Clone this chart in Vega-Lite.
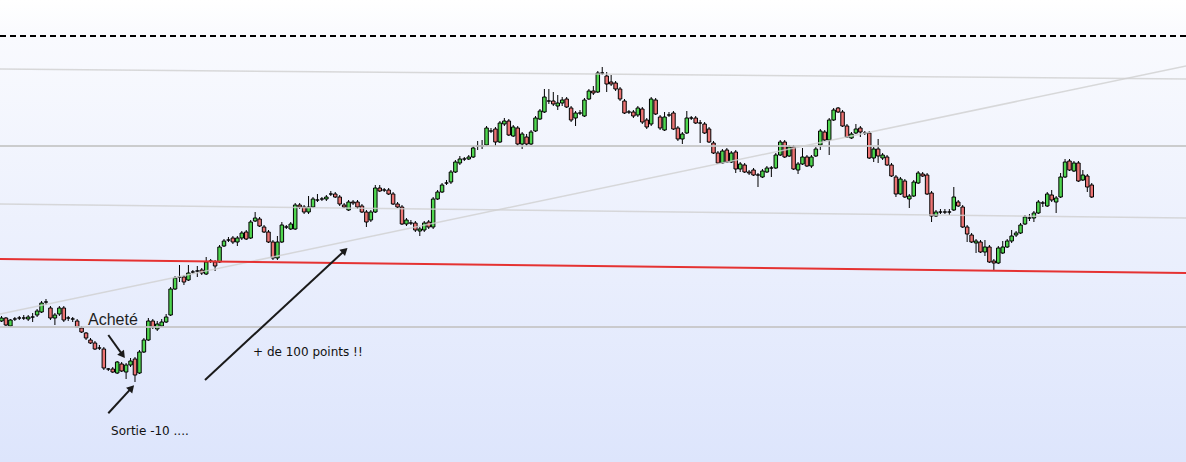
{
"$schema":"https://vega.github.io/schema/vega-lite/v6.json",
"width":1186,"height":462,"padding":0,"autosize":{"type":"none"},
"background":"#ffffff",
"config":{"scale":{"continuousPadding":0},"view":{"stroke":null,"fill":{"gradient":"linear","x1":0,"y1":0,"x2":0,"y2":1,"stops":[{"offset":0,"color":"#ffffff"},{"offset":0.08,"color":"#f9fafe"},{"offset":1,"color":"#dde5fc"}]}}},
"datasets":{
"candles":[
{"i":0,"o":679,"h":684,"l":678,"c":682},{"i":1,"o":682,"h":683,"l":674,"c":675},{"i":2,"o":674,"h":681,"l":673,"c":680},{"i":3,"o":681,"h":683,"l":679,"c":681},{"i":4,"o":682,"h":684,"l":680,"c":682},{"i":5,"o":682,"h":685,"l":680,"c":682},{"i":6,"o":681,"h":685,"l":679,"c":683},{"i":7,"o":683,"h":687,"l":678,"c":683},{"i":8,"o":685,"h":691,"l":683,"c":689},{"i":9,"o":688,"h":699,"l":687,"c":697},
{"i":10,"o":698,"h":701,"l":695,"c":698},{"i":11,"o":692,"h":694,"l":680,"c":682},{"i":12,"o":682,"h":687,"l":675,"c":685},{"i":13,"o":686,"h":694,"l":684,"c":692},{"i":14,"o":692,"h":694,"l":678,"c":680},{"i":15,"o":682,"h":684,"l":679,"c":682},{"i":16,"o":681,"h":683,"l":678,"c":681},{"i":17,"o":679,"h":681,"l":672,"c":673},{"i":18,"o":672,"h":674,"l":667,"c":668},{"i":19,"o":667,"h":668,"l":660,"c":662},
{"i":20,"o":660,"h":662,"l":656,"c":657},{"i":21,"o":657,"h":659,"l":650,"c":651},{"i":22,"o":652,"h":655,"l":650,"c":652},{"i":23,"o":651,"h":653,"l":630,"c":632},{"i":24,"o":631,"h":632,"l":629,"c":631},{"i":25,"o":631,"h":633,"l":627,"c":628},{"i":26,"o":627,"h":639,"l":626,"c":638},{"i":27,"o":636,"h":638,"l":628,"c":629},{"i":28,"o":628,"h":637,"l":621,"c":635},{"i":29,"o":635,"h":642,"l":633,"c":639},
{"i":30,"o":641,"h":643,"l":618,"c":625},{"i":31,"o":627,"h":650,"l":626,"c":648},{"i":32,"o":648,"h":662,"l":647,"c":660},{"i":33,"o":660,"h":682,"l":659,"c":679},{"i":34,"o":679,"h":681,"l":671,"c":673},{"i":35,"o":671,"h":679,"l":669,"c":676},{"i":36,"o":674,"h":681,"l":673,"c":678},{"i":37,"o":678,"h":686,"l":677,"c":683},{"i":38,"o":685,"h":713,"l":684,"c":711},{"i":39,"o":711,"h":724,"l":710,"c":722},
{"i":40,"o":723,"h":735,"l":718,"c":723},{"i":41,"o":723,"h":725,"l":715,"c":718},{"i":42,"o":720,"h":735,"l":719,"c":727},{"i":43,"o":728,"h":730,"l":726,"c":728},{"i":44,"o":729,"h":734,"l":723,"c":729},{"i":45,"o":730,"h":732,"l":725,"c":727},{"i":46,"o":726,"h":743,"l":725,"c":738},{"i":47,"o":739,"h":741,"l":737,"c":739},{"i":48,"o":738,"h":740,"l":729,"c":734},{"i":49,"o":738,"h":755,"l":737,"c":753},
{"i":50,"o":754,"h":761,"l":753,"c":759},{"i":51,"o":760,"h":763,"l":758,"c":760},{"i":52,"o":762,"h":764,"l":756,"c":758},{"i":53,"o":758,"h":764,"l":754,"c":762},{"i":54,"o":762,"h":769,"l":760,"c":767},{"i":55,"o":768,"h":770,"l":760,"c":761},{"i":56,"o":762,"h":780,"l":761,"c":778},{"i":57,"o":779,"h":788,"l":778,"c":782},{"i":58,"o":781,"h":783,"l":773,"c":774},{"i":59,"o":773,"h":775,"l":767,"c":768},
{"i":60,"o":768,"h":770,"l":757,"c":758},{"i":61,"o":758,"h":760,"l":740,"c":742},{"i":62,"o":742,"h":764,"l":740,"c":758},{"i":63,"o":758,"h":778,"l":757,"c":775},{"i":64,"o":773,"h":775,"l":771,"c":773},{"i":65,"o":771,"h":778,"l":770,"c":776},{"i":66,"o":771,"h":797,"l":770,"c":795},{"i":67,"o":795,"h":797,"l":791,"c":793},{"i":68,"o":793,"h":795,"l":786,"c":788},{"i":69,"o":788,"h":804,"l":786,"c":793},
{"i":70,"o":793,"h":803,"l":792,"c":801},{"i":71,"o":800,"h":806,"l":798,"c":800},{"i":72,"o":801,"h":803,"l":799,"c":801},{"i":73,"o":801,"h":805,"l":799,"c":803},{"i":74,"o":806,"h":809,"l":804,"c":806},{"i":75,"o":806,"h":808,"l":802,"c":803},{"i":76,"o":803,"h":805,"l":794,"c":796},{"i":77,"o":795,"h":797,"l":792,"c":793},{"i":78,"o":790,"h":800,"l":789,"c":798},{"i":79,"o":798,"h":800,"l":795,"c":797},
{"i":80,"o":798,"h":800,"l":791,"c":793},{"i":81,"o":794,"h":796,"l":787,"c":788},{"i":82,"o":788,"h":790,"l":773,"c":778},{"i":83,"o":780,"h":790,"l":778,"c":788},{"i":84,"o":788,"h":815,"l":787,"c":812},{"i":85,"o":812,"h":815,"l":808,"c":809},{"i":86,"o":810,"h":812,"l":808,"c":810},{"i":87,"o":810,"h":812,"l":805,"c":806},{"i":88,"o":806,"h":808,"l":795,"c":796},{"i":89,"o":796,"h":798,"l":792,"c":793},
{"i":90,"o":793,"h":795,"l":775,"c":776},{"i":91,"o":776,"h":782,"l":774,"c":780},{"i":92,"o":777,"h":780,"l":775,"c":777},{"i":93,"o":777,"h":779,"l":768,"c":770},{"i":94,"o":769,"h":773,"l":764,"c":771},{"i":95,"o":770,"h":779,"l":768,"c":777},{"i":96,"o":778,"h":780,"l":771,"c":773},{"i":97,"o":773,"h":803,"l":771,"c":801},{"i":98,"o":801,"h":810,"l":800,"c":808},{"i":99,"o":808,"h":817,"l":807,"c":815},
{"i":100,"o":817,"h":820,"l":815,"c":817},{"i":101,"o":818,"h":830,"l":816,"c":828},{"i":102,"o":828,"h":840,"l":827,"c":838},{"i":103,"o":837,"h":844,"l":835,"c":841},{"i":104,"o":841,"h":843,"l":839,"c":841},{"i":105,"o":841,"h":845,"l":840,"c":843},{"i":106,"o":843,"h":854,"l":842,"c":852},{"i":107,"o":854,"h":859,"l":850,"c":854},{"i":108,"o":854,"h":860,"l":851,"c":854},{"i":109,"o":855,"h":874,"l":854,"c":872},
{"i":110,"o":869,"h":872,"l":867,"c":869},{"i":111,"o":871,"h":873,"l":854,"c":858},{"i":112,"o":858,"h":879,"l":857,"c":877},{"i":113,"o":876,"h":882,"l":874,"c":879},{"i":114,"o":879,"h":881,"l":864,"c":865},{"i":115,"o":864,"h":875,"l":863,"c":873},{"i":116,"o":872,"h":874,"l":854,"c":856},{"i":117,"o":856,"h":868,"l":851,"c":866},{"i":118,"o":863,"h":866,"l":854,"c":856},{"i":119,"o":856,"h":870,"l":855,"c":868},
{"i":120,"o":869,"h":884,"l":868,"c":882},{"i":121,"o":881,"h":891,"l":880,"c":889},{"i":122,"o":888,"h":911,"l":887,"c":903},{"i":123,"o":899,"h":911,"l":896,"c":899},{"i":124,"o":899,"h":908,"l":894,"c":896},{"i":125,"o":894,"h":905,"l":890,"c":897},{"i":126,"o":897,"h":903,"l":894,"c":900},{"i":127,"o":901,"h":903,"l":892,"c":893},{"i":128,"o":892,"h":894,"l":878,"c":880},{"i":129,"o":882,"h":889,"l":874,"c":887},
{"i":130,"o":887,"h":890,"l":885,"c":887},{"i":131,"o":884,"h":902,"l":883,"c":900},{"i":132,"o":901,"h":911,"l":900,"c":909},{"i":133,"o":909,"h":914,"l":905,"c":907},{"i":134,"o":908,"h":929,"l":907,"c":927},{"i":135,"o":927,"h":933,"l":925,"c":927},{"i":136,"o":924,"h":928,"l":908,"c":916},{"i":137,"o":918,"h":925,"l":914,"c":916},{"i":138,"o":917,"h":919,"l":909,"c":911},{"i":139,"o":911,"h":913,"l":899,"c":901},
{"i":140,"o":899,"h":901,"l":886,"c":887},{"i":141,"o":888,"h":890,"l":886,"c":888},{"i":142,"o":888,"h":890,"l":882,"c":884},{"i":143,"o":885,"h":894,"l":883,"c":892},{"i":144,"o":891,"h":893,"l":876,"c":878},{"i":145,"o":880,"h":882,"l":871,"c":873},{"i":146,"o":876,"h":903,"l":874,"c":901},{"i":147,"o":900,"h":902,"l":885,"c":886},{"i":148,"o":883,"h":885,"l":870,"c":872},{"i":149,"o":870,"h":888,"l":869,"c":883},
{"i":150,"o":885,"h":888,"l":883,"c":885},{"i":151,"o":887,"h":889,"l":870,"c":871},{"i":152,"o":872,"h":874,"l":859,"c":861},{"i":153,"o":861,"h":868,"l":856,"c":866},{"i":154,"o":867,"h":889,"l":866,"c":882},{"i":155,"o":882,"h":884,"l":880,"c":882},{"i":156,"o":882,"h":884,"l":876,"c":877},{"i":157,"o":877,"h":880,"l":857,"c":877},{"i":158,"o":876,"h":878,"l":866,"c":867},{"i":159,"o":871,"h":873,"l":857,"c":858},
{"i":160,"o":857,"h":859,"l":846,"c":847},{"i":161,"o":847,"h":849,"l":836,"c":837},{"i":162,"o":837,"h":851,"l":836,"c":849},{"i":163,"o":850,"h":852,"l":837,"c":838},{"i":164,"o":838,"h":849,"l":837,"c":847},{"i":165,"o":848,"h":850,"l":827,"c":831},{"i":166,"o":831,"h":838,"l":828,"c":836},{"i":167,"o":835,"h":837,"l":827,"c":828},{"i":168,"o":828,"h":830,"l":825,"c":827},{"i":169,"o":830,"h":832,"l":824,"c":825},
{"i":170,"o":825,"h":827,"l":813,"c":825},{"i":171,"o":823,"h":831,"l":822,"c":829},{"i":172,"o":828,"h":834,"l":827,"c":832},{"i":173,"o":832,"h":834,"l":823,"c":832},{"i":174,"o":832,"h":847,"l":831,"c":845},{"i":175,"o":845,"h":860,"l":844,"c":858},{"i":176,"o":858,"h":860,"l":842,"c":843},{"i":177,"o":844,"h":855,"l":843,"c":853},{"i":178,"o":853,"h":855,"l":830,"c":831},{"i":179,"o":830,"h":838,"l":826,"c":836},
{"i":180,"o":836,"h":852,"l":835,"c":843},{"i":181,"o":843,"h":845,"l":833,"c":834},{"i":182,"o":834,"h":845,"l":832,"c":843},{"i":183,"o":844,"h":853,"l":843,"c":851},{"i":184,"o":855,"h":871,"l":850,"c":869},{"i":185,"o":868,"h":870,"l":859,"c":860},{"i":186,"o":860,"h":882,"l":845,"c":880},{"i":187,"o":880,"h":892,"l":879,"c":890},{"i":188,"o":892,"h":893,"l":887,"c":888},{"i":189,"o":888,"h":890,"l":873,"c":874},
{"i":190,"o":874,"h":876,"l":862,"c":863},{"i":191,"o":862,"h":868,"l":861,"c":866},{"i":192,"o":867,"h":876,"l":866,"c":871},{"i":193,"o":872,"h":874,"l":863,"c":868},{"i":194,"o":867,"h":869,"l":865,"c":867},{"i":195,"o":867,"h":869,"l":841,"c":842},{"i":196,"o":842,"h":853,"l":838,"c":851},{"i":197,"o":851,"h":861,"l":837,"c":844},{"i":198,"o":842,"h":847,"l":840,"c":845},{"i":199,"o":843,"h":845,"l":834,"c":835},
{"i":200,"o":835,"h":837,"l":823,"c":824},{"i":201,"o":823,"h":825,"l":803,"c":806},{"i":202,"o":806,"h":823,"l":805,"c":821},{"i":203,"o":819,"h":821,"l":802,"c":803},{"i":204,"o":801,"h":806,"l":792,"c":804},{"i":205,"o":804,"h":820,"l":803,"c":818},{"i":206,"o":817,"h":829,"l":816,"c":827},{"i":207,"o":826,"h":828,"l":823,"c":824},{"i":208,"o":825,"h":827,"l":805,"c":806},{"i":209,"o":807,"h":809,"l":778,"c":784},
{"i":210,"o":784,"h":790,"l":783,"c":788},{"i":211,"o":788,"h":791,"l":786,"c":788},{"i":212,"o":788,"h":791,"l":786,"c":788},{"i":213,"o":788,"h":791,"l":785,"c":788},{"i":214,"o":790,"h":813,"l":789,"c":803},{"i":215,"o":798,"h":800,"l":793,"c":794},{"i":216,"o":793,"h":795,"l":772,"c":773},{"i":217,"o":773,"h":775,"l":758,"c":766},{"i":218,"o":765,"h":767,"l":757,"c":758},{"i":219,"o":757,"h":761,"l":747,"c":759},
{"i":220,"o":758,"h":760,"l":747,"c":748},{"i":221,"o":748,"h":760,"l":744,"c":753},{"i":222,"o":753,"h":755,"l":737,"c":738},{"i":223,"o":739,"h":741,"l":730,"c":737},{"i":224,"o":737,"h":754,"l":736,"c":752},{"i":225,"o":747,"h":759,"l":746,"c":753},{"i":226,"o":753,"h":761,"l":752,"c":759},{"i":227,"o":759,"h":770,"l":757,"c":764},{"i":228,"o":765,"h":769,"l":763,"c":767},{"i":229,"o":767,"h":777,"l":766,"c":775},
{"i":230,"o":776,"h":785,"l":775,"c":783},{"i":231,"o":782,"h":786,"l":779,"c":782},{"i":232,"o":782,"h":789,"l":778,"c":787},{"i":233,"o":787,"h":800,"l":786,"c":798},{"i":234,"o":797,"h":799,"l":793,"c":797},{"i":235,"o":794,"h":808,"l":793,"c":806},{"i":236,"o":805,"h":810,"l":798,"c":800},{"i":237,"o":798,"h":804,"l":787,"c":802},{"i":238,"o":803,"h":827,"l":802,"c":823},{"i":239,"o":823,"h":841,"l":822,"c":838},
{"i":240,"o":839,"h":841,"l":829,"c":830},{"i":241,"o":829,"h":839,"l":828,"c":837},{"i":242,"o":837,"h":839,"l":818,"c":819},{"i":243,"o":820,"h":830,"l":819,"c":825},{"i":244,"o":824,"h":826,"l":808,"c":813},{"i":245,"o":815,"h":817,"l":802,"c":803}
]},
"layer":[
{"data":{"name":"candles"},"mark":{"type":"rule","color":"#000000","strokeWidth":1},
 "encoding":{"x":{"field":"i","type":"quantitative","scale":{"domain":[-0.337,266.18],"nice":false,"zero":false,"padding":0},"axis":null},
 "y":{"field":"h","type":"quantitative","scale":{"domain":[538,1000],"nice":false,"zero":false,"padding":0},"axis":null},"y2":{"field":"l"}}},
{"data":{"name":"candles"},"mark":{"type":"bar","width":3.5,"stroke":"#000000","strokeWidth":1,"opacity":1},
 "encoding":{"x":{"field":"i","type":"quantitative","scale":{"domain":[-0.337,266.18],"nice":false,"zero":false,"padding":0},"axis":null},
 "y":{"field":"o","type":"quantitative","scale":{"domain":[538,1000],"nice":false,"zero":false,"padding":0},"axis":null},"y2":{"field":"c"},
 "fill":{"condition":{"test":"datum.c > datum.o","value":"#4fd64f"},"value":"#ec7474"}}},
{"data":{"values":[{"x":-0.337,"y":964,"x2":266.18,"y2":964}]},"mark":{"type":"rule","color":"#000000","strokeWidth":2,"strokeDash":[6,4]},
 "encoding":{"x":{"field":"x","type":"quantitative","scale":{"domain":[-0.337,266.18],"nice":false,"zero":false,"padding":0},"axis":null},"x2":{"field":"x2"},
 "y":{"field":"y","type":"quantitative","scale":{"domain":[538,1000],"nice":false,"zero":false,"padding":0},"axis":null},"y2":{"field":"y2"}}},
{"data":{"values":[{"x":-0.337,"y":854,"x2":266.18,"y2":854},{"x":-0.337,"y":673,"x2":266.18,"y2":673}]},"mark":{"type":"rule","color":"#c4c4c4","strokeWidth":2,"opacity":0.85},
 "encoding":{"x":{"field":"x","type":"quantitative","scale":{"domain":[-0.337,266.18],"nice":false,"zero":false,"padding":0},"axis":null},"x2":{"field":"x2"},
 "y":{"field":"y","type":"quantitative","scale":{"domain":[538,1000],"nice":false,"zero":false,"padding":0},"axis":null},"y2":{"field":"y2"}}},
{"data":{"values":[{"x":-0.337,"y":931,"x2":266.18,"y2":921},{"x":-0.337,"y":796,"x2":266.18,"y2":782},{"x":-0.337,"y":686,"x2":266.18,"y2":934}]},"mark":{"type":"rule","color":"#cfcfcf","strokeWidth":1.5,"opacity":0.8},
 "encoding":{"x":{"field":"x","type":"quantitative","scale":{"domain":[-0.337,266.18],"nice":false,"zero":false,"padding":0},"axis":null},"x2":{"field":"x2"},
 "y":{"field":"y","type":"quantitative","scale":{"domain":[538,1000],"nice":false,"zero":false,"padding":0},"axis":null},"y2":{"field":"y2"}}},
{"data":{"values":[{"x":-0.337,"y":741,"x2":266.18,"y2":727}]},"mark":{"type":"rule","color":"#e53232","strokeWidth":2},
 "encoding":{"x":{"field":"x","type":"quantitative","scale":{"domain":[-0.337,266.18],"nice":false,"zero":false,"padding":0},"axis":null},"x2":{"field":"x2"},
 "y":{"field":"y","type":"quantitative","scale":{"domain":[538,1000],"nice":false,"zero":false,"padding":0},"axis":null},"y2":{"field":"y2"}}},
{"data":{"values":[{"x":24.0,"y":665,"x2":27.24,"y2":644.9},{"x":24.0,"y":586.7,"x2":29.24,"y2":612.1},{"x":45.73,"y":620,"x2":77.15,"y2":749.6}]},"mark":{"type":"rule","color":"#1a1a1a","strokeWidth":2},
 "encoding":{"x":{"field":"x","type":"quantitative","scale":{"domain":[-0.337,266.18],"nice":false,"zero":false,"padding":0},"axis":null},"x2":{"field":"x2"},
 "y":{"field":"y","type":"quantitative","scale":{"domain":[538,1000],"nice":false,"zero":false,"padding":0},"axis":null},"y2":{"field":"y2"}}},
{"data":{"values":[{"x":27.24,"y":644.9}]},"mark":{"type":"point","shape":"triangle-up","filled":true,"size":70,"angle":144,"color":"#1a1a1a","opacity":1},
 "encoding":{"x":{"field":"x","type":"quantitative","scale":{"domain":[-0.337,266.18],"nice":false,"zero":false,"padding":0},"axis":null},
 "y":{"field":"y","type":"quantitative","scale":{"domain":[538,1000],"nice":false,"zero":false,"padding":0},"axis":null}}},
{"data":{"values":[{"x":29.24,"y":612.1}]},"mark":{"type":"point","shape":"triangle-up","filled":true,"size":70,"angle":43,"color":"#1a1a1a","opacity":1},
 "encoding":{"x":{"field":"x","type":"quantitative","scale":{"domain":[-0.337,266.18],"nice":false,"zero":false,"padding":0},"axis":null},
 "y":{"field":"y","type":"quantitative","scale":{"domain":[538,1000],"nice":false,"zero":false,"padding":0},"axis":null}}},
{"data":{"values":[{"x":77.15,"y":749.6}]},"mark":{"type":"point","shape":"triangle-up","filled":true,"size":70,"angle":47,"color":"#1a1a1a","opacity":1},
 "encoding":{"x":{"field":"x","type":"quantitative","scale":{"domain":[-0.337,266.18],"nice":false,"zero":false,"padding":0},"axis":null},
 "y":{"field":"y","type":"quantitative","scale":{"domain":[538,1000],"nice":false,"zero":false,"padding":0},"axis":null}}},
{"data":{"values":[{"x":19.44,"y":675.5,"t":"Acheté"}]},"mark":{"type":"text","align":"left","baseline":"alphabetic","font":"Liberation Sans","fontSize":16,"color":"#1e1e1e"},
 "encoding":{"x":{"field":"x","type":"quantitative","scale":{"domain":[-0.337,266.18],"nice":false,"zero":false,"padding":0},"axis":null},
 "y":{"field":"y","type":"quantitative","scale":{"domain":[538,1000],"nice":false,"zero":false,"padding":0},"axis":null},"text":{"field":"t"}}},
{"data":{"values":[{"x":56.52,"y":644,"t":"+ de 100 points !!"},{"x":24.61,"y":565,"t":"Sortie -10 ...."}]},"mark":{"type":"text","align":"left","baseline":"alphabetic","font":"DejaVu Sans","fontSize":12,"color":"#111111"},
 "encoding":{"x":{"field":"x","type":"quantitative","scale":{"domain":[-0.337,266.18],"nice":false,"zero":false,"padding":0},"axis":null},
 "y":{"field":"y","type":"quantitative","scale":{"domain":[538,1000],"nice":false,"zero":false,"padding":0},"axis":null},"text":{"field":"t"}}}
]
}
